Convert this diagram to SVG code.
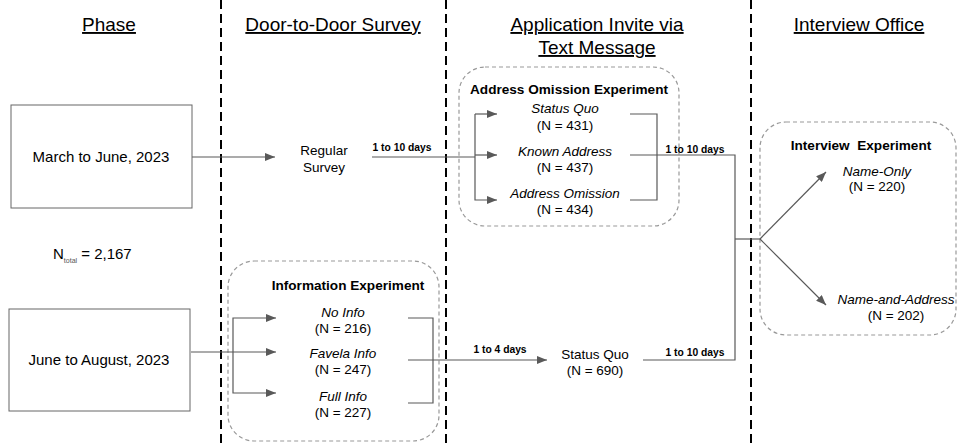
<svg xmlns="http://www.w3.org/2000/svg" width="958" height="447" viewBox="0 0 958 447">
<defs>
<marker id="ah" markerWidth="10" markerHeight="8" refX="10" refY="4" orient="auto" markerUnits="userSpaceOnUse">
<path d="M0,0 L10,4 L0,8 Z" fill="#595959"/>
</marker>
<style>
text{font-family:"Liberation Sans",Arial,sans-serif;fill:#000}
.hd{font-size:19px;text-anchor:middle;text-decoration:underline}
.t{font-size:13.5px;text-anchor:middle}
.bx{font-size:15px;text-anchor:middle}
.i{font-size:13.5px;text-anchor:middle;font-style:italic}
.b{font-size:13.6px;text-anchor:middle;font-weight:bold}
.lb{font-size:10.3px;text-anchor:middle;font-weight:bold}
.div{stroke:#000;stroke-width:2;stroke-dasharray:9 5;fill:none}
.grp{fill:none;stroke:#999;stroke-width:1.2;stroke-dasharray:4 3}
.box{fill:#fff;stroke:#666;stroke-width:1}
.ln{fill:none;stroke:#595959;stroke-width:1.2}
.ar{fill:none;stroke:#595959;stroke-width:1.2;marker-end:url(#ah)}
</style>
</defs>
<rect width="958" height="447" fill="#fff"/>

<g id="dividers">
<line class="div" x1="221" y1="0" x2="221" y2="447"/>
<line class="div" x1="446" y1="0" x2="446" y2="447"/>
<line class="div" x1="751" y1="0" x2="751" y2="447"/>
</g>

<g id="headers">
<text class="hd" x="109" y="31">Phase</text>
<text class="hd" x="333" y="31">Door-to-Door Survey</text>
<text class="hd" x="597" y="31">Application Invite via</text>
<text class="hd" x="597" y="54">Text Message</text>
<text class="hd" x="859" y="31">Interview Office</text>
</g>

<g id="group-address">
<rect class="grp" x="459" y="67" width="220" height="159" rx="26"/>
<text class="b" x="569" y="94">Address Omission Experiment</text>
</g>
<g id="group-information">
<rect class="grp" x="228" y="261" width="211" height="180" rx="26"/>
<text class="b" x="348" y="290">Information Experiment</text>
</g>
<g id="group-interview">
<rect class="grp" x="760" y="122" width="196" height="213" rx="26"/>
<text class="b" x="861" y="150">Interview&#160; Experiment</text>
</g>

<g id="connectors">
<line class="ar" x1="180" y1="157" x2="275" y2="157"/>
<polyline class="ln" points="372,157 475,157"/>
<polyline class="ar" points="475,114 497,114"/>
<polyline class="ar" points="475,155 497,155"/>
<polyline class="ar" points="475,114 475,200 497,200"/>
<polyline class="ln" points="630,114 657,114 657,200 630,200"/>
<polyline class="ln" points="630,155 735,155 735,360 643,360"/>
<line class="ln" x1="735" y1="239" x2="760" y2="239"/>
<line class="ar" x1="760" y1="239" x2="826" y2="172"/>
<line class="ar" x1="760" y1="239" x2="826" y2="305"/>
<line class="ar" x1="191" y1="352" x2="276" y2="352"/>
<polyline class="ar" points="233,352 233,318 276,318"/>
<polyline class="ar" points="233,352 233,393 276,393"/>
<polyline class="ln" points="408,318 433,318 433,403 408,403"/>
<line class="ar" x1="408" y1="360" x2="547" y2="360"/>
<text class="lb" x="402" y="151">1 to 10 days</text>
<text class="lb" x="695" y="153">1 to 10 days</text>
<text class="lb" x="500" y="353">1 to 4 days</text>
<text class="lb" x="695" y="356">1 to 10 days</text>
</g>

<g id="node-march">
<rect class="box" x="11" y="105" width="181" height="103"/>
<text class="bx" x="101" y="162">March to June, 2023</text>
</g>
<g id="node-june">
<rect class="box" x="9" y="309" width="181" height="102"/>
<text class="bx" x="99" y="365">June to August, 2023</text>
</g>
<g id="node-ntotal">
<text x="53" y="259" style="font-size:15px">N<tspan dy="4" style="font-size:7px;fill:#555">total</tspan><tspan dy="-4"> = 2,167</tspan></text>
</g>
<g id="node-regular">
<text class="t" x="324" y="155">Regular</text>
<text class="t" x="324" y="172">Survey</text>
</g>
<g id="node-sq431">
<text class="i" x="565" y="113">Status Quo</text>
<text class="t" x="565" y="130">(N = 431)</text>
</g>
<g id="node-known">
<text class="i" x="565" y="156">Known Address</text>
<text class="t" x="565" y="172">(N = 437)</text>
</g>
<g id="node-omission">
<text class="i" x="565" y="198">Address Omission</text>
<text class="t" x="565" y="214">(N = 434)</text>
</g>
<g id="node-noinfo">
<text class="i" x="343" y="317">No Info</text>
<text class="t" x="343" y="333">(N = 216)</text>
</g>
<g id="node-favela">
<text class="i" x="343" y="358">Favela Info</text>
<text class="t" x="343" y="374">(N = 247)</text>
</g>
<g id="node-full">
<text class="i" x="343" y="401">Full Info</text>
<text class="t" x="343" y="417">(N = 227)</text>
</g>
<g id="node-sq690">
<text class="t" x="595" y="359">Status Quo</text>
<text class="t" x="595" y="375">(N = 690)</text>
</g>
<g id="node-nameonly">
<text class="i" x="877" y="176">Name-Only</text>
<text class="t" x="877" y="191">(N = 220)</text>
</g>
<g id="node-nameaddr">
<text class="i" x="896" y="304">Name-and-Address</text>
<text class="t" x="896" y="320">(N = 202)</text>
</g>
</svg>
